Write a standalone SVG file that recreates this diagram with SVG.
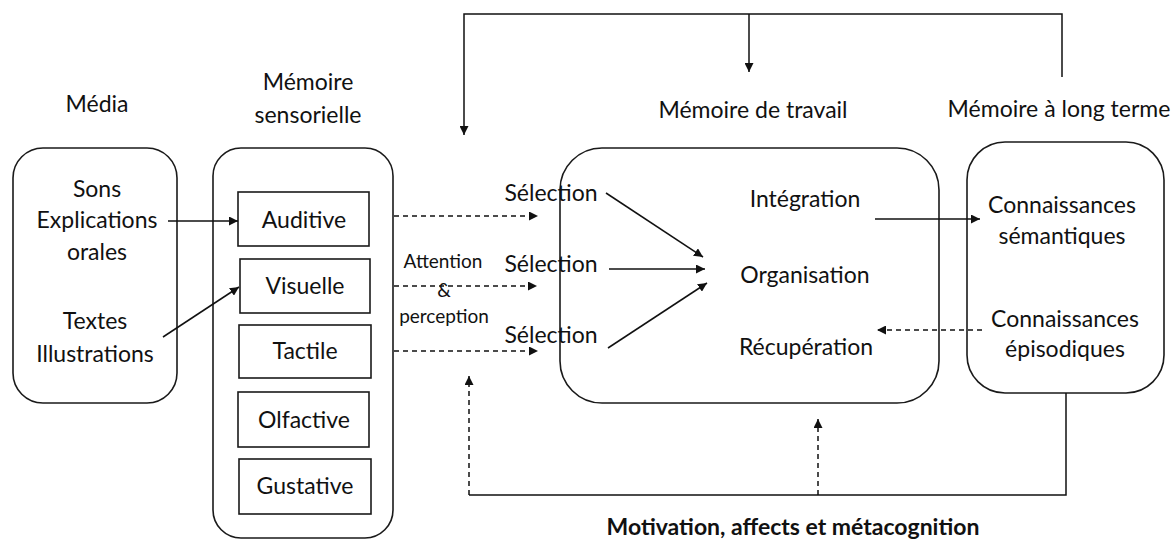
<svg xmlns="http://www.w3.org/2000/svg" width="1176" height="540" viewBox="0 0 1176 540">
<style>
  text { font-family: Lato, "Open Sans", "Liberation Sans", sans-serif; fill: #111; }
  .t { font-size: 23px; text-anchor: middle; }
  .s { font-size: 19px; text-anchor: middle; }
  .b { font-size: 23px; font-weight: bold; text-anchor: middle; }
  .box { fill: #fff; stroke: #1a1a1a; stroke-width: 1.6; }
  .ln { fill: none; stroke: #111; stroke-width: 1.5; }
  .dash { fill: none; stroke: #111; stroke-width: 1.5; stroke-dasharray: 5 4; }
</style>
<defs>
  <marker id="ah" viewBox="0 0 10 10" refX="10" refY="5" markerWidth="9" markerHeight="9" markerUnits="userSpaceOnUse" orient="auto">
    <path d="M0,0 L10,5 L0,10 Z" fill="#111"/>
  </marker>
</defs>
<rect width="1176" height="540" fill="#fff"/>

<!-- headings -->
<text class="t" x="97" y="112">Média</text>
<text class="t" x="308" y="90">Mémoire</text>
<text class="t" x="308" y="123">sensorielle</text>
<text class="t" x="753" y="118">Mémoire de travail</text>
<text class="t" x="1059" y="117">Mémoire à long terme</text>

<g id="media">
  <rect class="box" x="13" y="148" width="164" height="255" rx="30"/>
  <text class="t" x="97" y="197">Sons</text>
  <text class="t" x="97" y="228">Explications</text>
  <text class="t" x="97" y="260">orales</text>
  <text class="t" x="95" y="329">Textes</text>
  <text class="t" x="95" y="362">Illustrations</text>
</g>

<g id="memoire-sensorielle">
  <rect class="box" x="213" y="148" width="180" height="390" rx="28"/>
  <g id="auditive">
    <rect class="box" x="238" y="192" width="131" height="54"/>
    <text class="t" x="304" y="228">Auditive</text>
  </g>
  <g id="visuelle">
    <rect class="box" x="240" y="259" width="130" height="54"/>
    <text class="t" x="305" y="294">Visuelle</text>
  </g>
  <g id="tactile">
    <rect class="box" x="239" y="325" width="132" height="53"/>
    <text class="t" x="305" y="359">Tactile</text>
  </g>
  <g id="olfactive">
    <rect class="box" x="238" y="392" width="131" height="55"/>
    <text class="t" x="304" y="428">Olfactive</text>
  </g>
  <g id="gustative">
    <rect class="box" x="239" y="459" width="132" height="55"/>
    <text class="t" x="305" y="494">Gustative</text>
  </g>
</g>

<g id="memoire-de-travail">
  <rect class="box" x="560" y="148" width="379" height="255" rx="42"/>
  <text class="t" x="805" y="207">Intégration</text>
  <text class="t" x="805" y="283">Organisation</text>
  <text class="t" x="806" y="355">Récupération</text>
</g>

<g id="memoire-long-terme">
  <rect class="box" x="967" y="142" width="197" height="251" rx="38"/>
  <text class="t" x="1062" y="213">Connaissances</text>
  <text class="t" x="1062" y="244">sémantiques</text>
  <text class="t" x="1065" y="327">Connaissances</text>
  <text class="t" x="1065" y="357">épisodiques</text>
</g>

<g id="labels">
  <text class="t" x="551" y="201">Sélection</text>
  <text class="t" x="551" y="272">Sélection</text>
  <text class="t" x="551" y="343">Sélection</text>
  <text class="s" x="443" y="268">Attention</text>
  <text class="s" x="444" y="297">&amp;</text>
  <text class="s" x="444" y="323">perception</text>
  <text class="b" x="793" y="535">Motivation, affects et métacognition</text>
</g>

<g id="connectors">
  <line class="ln" x1="168" y1="221" x2="238" y2="221" marker-end="url(#ah)"/>
  <line class="ln" x1="163" y1="337" x2="239" y2="287" marker-end="url(#ah)"/>
  <line class="dash" x1="394" y1="216" x2="538" y2="216" marker-end="url(#ah)"/>
  <line class="dash" x1="394" y1="286" x2="537" y2="286" marker-end="url(#ah)"/>
  <line class="dash" x1="394" y1="351" x2="538" y2="351" marker-end="url(#ah)"/>
  <line class="ln" x1="606" y1="193" x2="703" y2="257" marker-end="url(#ah)"/>
  <line class="ln" x1="609" y1="269" x2="705" y2="269" marker-end="url(#ah)"/>
  <line class="ln" x1="608" y1="348" x2="707" y2="283" marker-end="url(#ah)"/>
  <line class="ln" x1="875" y1="219" x2="980" y2="219" marker-end="url(#ah)"/>
  <line class="dash" x1="982" y1="330" x2="877" y2="330" marker-end="url(#ah)"/>
  <polyline class="ln" points="1066,393 1066,495 469,495"/>
  <line class="dash" x1="469" y1="495" x2="469" y2="376" marker-end="url(#ah)"/>
  <line class="dash" x1="818" y1="495" x2="818" y2="419" marker-end="url(#ah)"/>
  <polyline class="ln" points="1062,77 1062,14 464,14 464,135" marker-end="url(#ah)"/>
  <line class="ln" x1="749" y1="14" x2="749" y2="72" marker-end="url(#ah)"/>
</g>
</svg>
